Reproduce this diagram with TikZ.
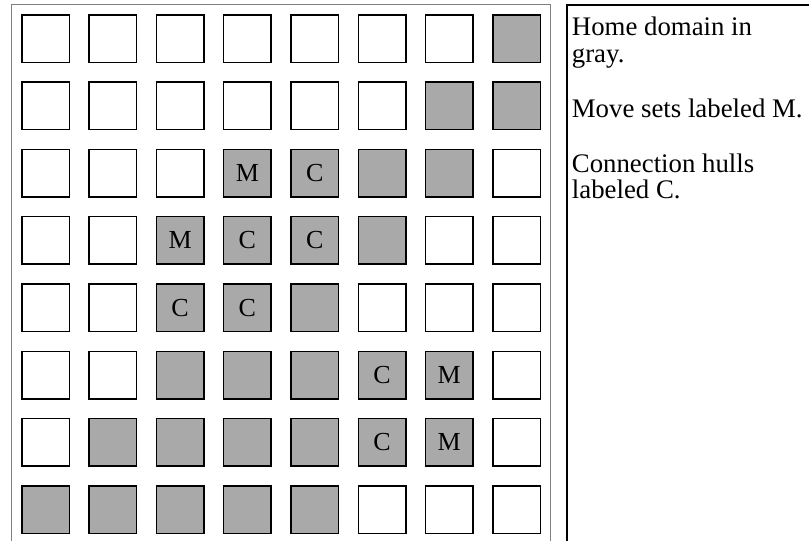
\documentclass[tikz,border=0pt]{standalone}
\usepackage{fontspec}
\setmainfont{Liberation Serif}
\usetikzlibrary{positioning}
\definecolor{homegray}{RGB}{169,169,169}

\begin{document}
\begin{tikzpicture}[x=1pt, y=-1pt,
    cell/.style={draw, line width=1.5pt, minimum size=47.5pt, inner sep=0pt, fill=white},
    home/.style={cell, fill=homegray},
    tag/.style={font=\fontsize{26}{26}\selectfont, inner sep=0pt},
    legend/.style={font=\fontsize{26.8}{26.5}\selectfont, align=left, inner sep=0pt}]
  \clip (0,0) rectangle (809,541);
  % outer frames
  \draw[gray, line width=0.8pt] (11.7,4.7) rectangle (550,545);
  \draw[line width=2pt] (567.3,545) |- (815,4.7);
  % the grid, home domain filled per row from lo to hi
  \foreach \r/\lo/\hi in {1/8/8, 2/7/8, 3/4/7, 4/3/6, 5/3/5, 6/3/7, 7/2/7, 8/1/5}
    \foreach \c in {1,...,8} {
      \ifnum\c<\lo \def\sty{cell}\else\ifnum\c>\hi \def\sty{cell}\else\def\sty{home}\fi\fi
      \node[\sty] (c\r\c) at ({45.5+(\c-1)*67.3}, {38.5+(\r-1)*67.3}) {};
    }
  % move sets and connection hulls
  \foreach \r/\c/\t in {3/4/M, 3/5/C, 4/3/M, 4/4/C, 4/5/C, 5/3/C, 5/4/C, 6/6/C, 6/7/M, 7/6/C, 7/7/M}
    \node[tag] (t\r\c) at (c\r\c) {\t};
  \node[legend, anchor=north west] (key) at (571.7,16.8)
    {Home domain in\\gray.\\[28.5pt]Move sets labeled M.\\[28.5pt]Connection hulls\\labeled C.};
\end{tikzpicture}
\end{document}
